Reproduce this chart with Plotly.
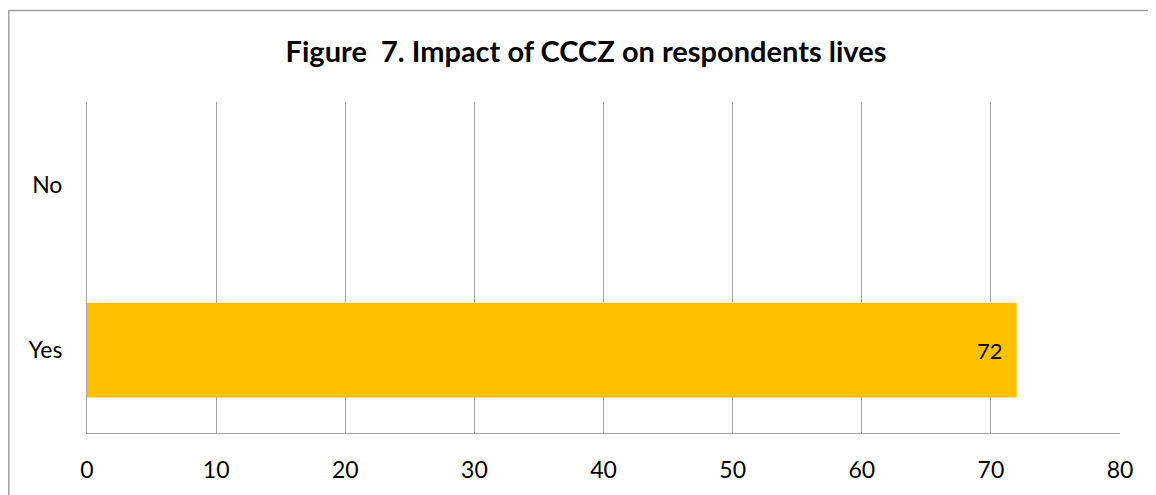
import plotly.graph_objects as go

categories = ["Yes", "No"]
values = [72, None]
labels = ["72", ""]
x_ticks = [0, 10, 20, 30, 40, 50, 60, 70, 80]

FONT = "Lato, Calibri, Carlito, sans-serif"
GRID = "#a6a6a6"

W, H = 1148, 487
L, T, R, B = 79, 94, 36, 62
plot_w = W - L - R
plot_h = H - T - B

fig = go.Figure()
fig.add_trace(go.Bar(
    y=categories,
    x=values,
    orientation="h",
    marker=dict(color="#FFC000", line=dict(width=0)),
    width=0.57,
    text=[t + "\u00a0\u00a0" if t else "" for t in labels],
    textposition="inside",
    insidetextanchor="end",
    textfont=dict(family=FONT, size=22, color="#000000"),
    hoverinfo="skip",
))

fig.update_layout(
    width=W,
    height=H,
    margin=dict(l=L, r=R, t=T, b=B),
    paper_bgcolor="white",
    plot_bgcolor="white",
    showlegend=False,
    font=dict(family=FONT, color="#000000"),
    title=dict(
        text="<b>Figure  7. Impact of CCCZ on respondents lives</b>",
        x=578 / W,
        xanchor="center",
        y=1 - 44 / H,
        yanchor="middle",
        font=dict(family=FONT, size=29, color="#000000"),
    ),
    xaxis=dict(
        range=[0, 80],
        tickvals=x_ticks,
        ticktext=[str(v) for v in x_ticks],
        showgrid=True,
        gridcolor=GRID,
        gridwidth=1,
        showline=True,
        linecolor=GRID,
        linewidth=1,
        zeroline=False,
        ticks="",
        ticklabelstandoff=16,
        tickfont=dict(family=FONT, size=23, color="#000000"),
        fixedrange=True,
    ),
    yaxis=dict(
        categoryorder="array",
        categoryarray=categories,
        showgrid=False,
        showline=True,
        linecolor=GRID,
        linewidth=1,
        zeroline=False,
        ticks="",
        ticklabelstandoff=19,
        tickfont=dict(family=FONT, size=23, color="#000000"),
        fixedrange=True,
    ),
    bargap=0.43,
)

# outer chart border
fig.add_shape(
    type="rect", xref="paper", yref="paper",
    x0=(0.75 - L) / plot_w, x1=1.2, y0=-0.5, y1=(plot_h + T - 2.5) / plot_h,
    line=dict(color="#a0a0a0", width=1.5), fillcolor="rgba(0,0,0,0)",
    layer="below",
)

fig.write_html("out.html")
